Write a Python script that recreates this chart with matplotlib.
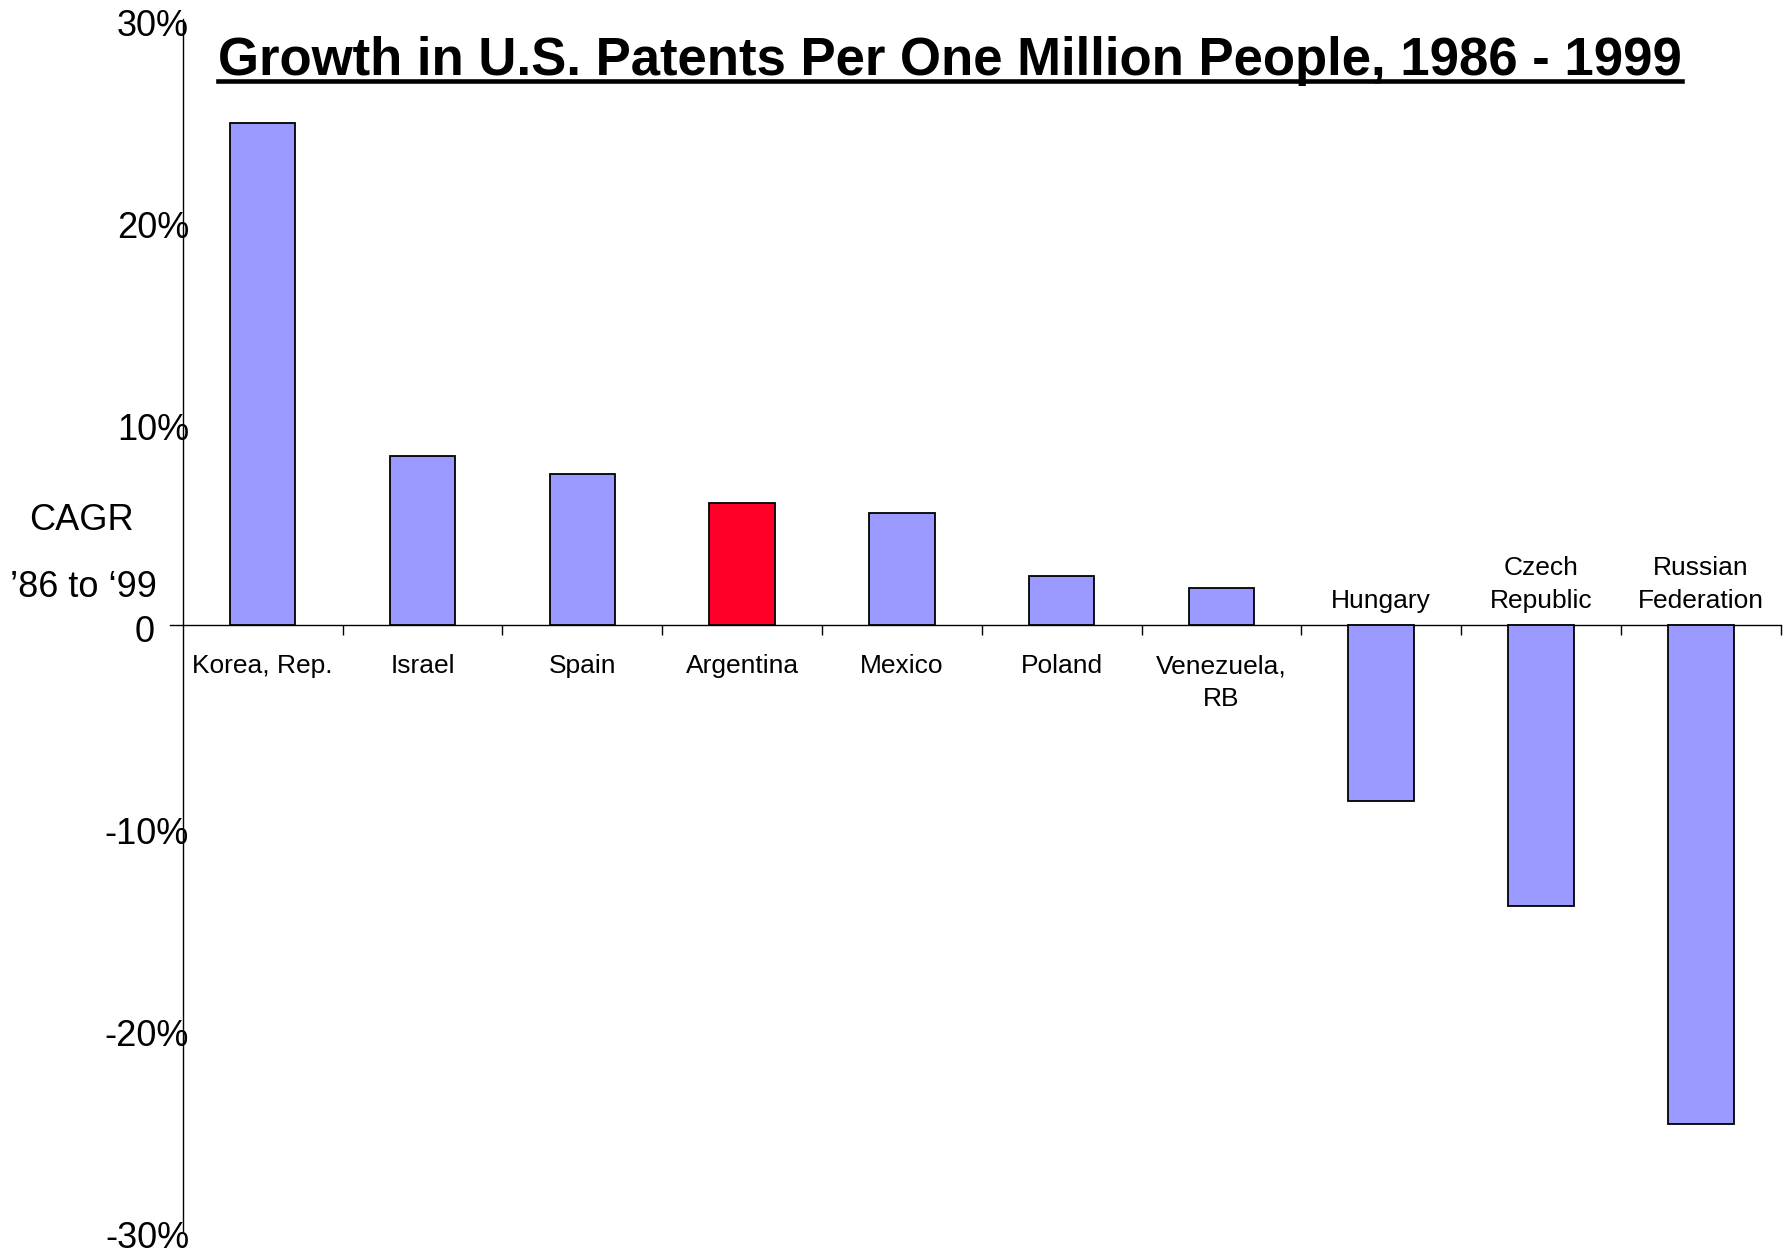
import matplotlib
matplotlib.use("Agg")
import matplotlib.pyplot as plt
from matplotlib.lines import Line2D
from matplotlib.transforms import ScaledTranslation

plt.rcParams['font.family'] = ['Liberation Sans', 'DejaVu Sans']

# CAGR of U.S. patents per million people, 1986-1999 (%)
countries = ['Korea, Rep.', 'Israel', 'Spain', 'Argentina', 'Mexico', 'Poland',
             'Venezuela,\nRB', 'Hungary', 'Czech\nRepublic', 'Russian\nFederation']
growth = [24.85, 8.4, 7.5, 6.05, 5.55, 2.45, 1.85, -8.7, -13.9, -24.7]
highlight = 'Argentina'

yticks = [30, 20, 10, 0, -10, -20, -30]
ytick_labels = ['30%', '20%', '10%', '0', '-10%', '-20%', '-30%']

bar_color = '#9999FF'
hi_color = '#FF0028'

fig = plt.figure(figsize=(17.92, 12.54), dpi=100)
ax = fig.add_axes([0.102, 0.0183, 0.8917, 0.9662])

x = list(range(len(countries)))
colors = [hi_color if c == highlight else bar_color for c in countries]
ax.bar(x, growth, width=0.41, color=colors, edgecolor='black', linewidth=1.3, zorder=3)

ax.set_xlim(-0.5, len(countries) - 0.5)
ax.set_ylim(-30, 30)

# axes styling: left spine plus a zero line carrying the category ticks
ax.spines['top'].set_visible(False)
ax.spines['right'].set_visible(False)
ax.spines['bottom'].set_position(('data', 0))
ax.spines['bottom'].set_linewidth(1.0)
ax.spines['left'].set_linewidth(1.0)
ax.axhline(0, xmin=-0.008, xmax=0, color='black', lw=1.0, clip_on=False)

ax.set_xticks([i + 0.5 for i in x])
ax.set_xticklabels([])
ax.tick_params(axis='x', direction='out', length=7, width=1.0)

ax.set_yticks(yticks)
ax.set_yticklabels(ytick_labels)
ax.tick_params(axis='y', length=0, pad=-4.5, labelsize=26)
for lbl in ax.get_yticklabels():
    lbl.set_verticalalignment('center_baseline')
    shift = ScaledTranslation(0, -0.03, fig.dpi_scale_trans)
    if lbl.get_text() == '0':
        # the zero label sits further left, clear of the axis line
        shift = ScaledTranslation(-0.34, -0.03, fig.dpi_scale_trans)
    lbl.set_transform(lbl.get_transform() + shift)

# category names: below the axis for gains, above it for declines
for xi, name, val in zip(x, countries, growth):
    if val >= 0:
        ax.annotate(name, (xi, 0), xytext=(0, -21), textcoords='offset points',
                    ha='center', va='top', fontsize=19, linespacing=1.45)
    else:
        ax.annotate(name, (xi, 0), xytext=(0, 9), textcoords='offset points',
                    ha='center', va='bottom', fontsize=19, linespacing=1.45)

fig.text(0.0453, 0.585, 'CAGR', ha='center', va='center', fontsize=26)
fig.text(0.0465, 0.5316, '\u201986 to \u201899', ha='center', va='center', fontsize=26)

title = fig.text(0.530, 0.9399, 'Growth in U.S. Patents Per One Million People, 1986 - 1999',
                 ha='center', va='baseline', fontsize=38, fontweight='bold')

# underline the title across its drawn width
fig.canvas.draw()
bb = title.get_window_extent().transformed(fig.transFigure.inverted())
fig.add_artist(Line2D([bb.x0, bb.x1], [0.9355, 0.9355], color='black', lw=3.3,
                      transform=fig.transFigure))

fig.savefig('out.png', dpi=100)
